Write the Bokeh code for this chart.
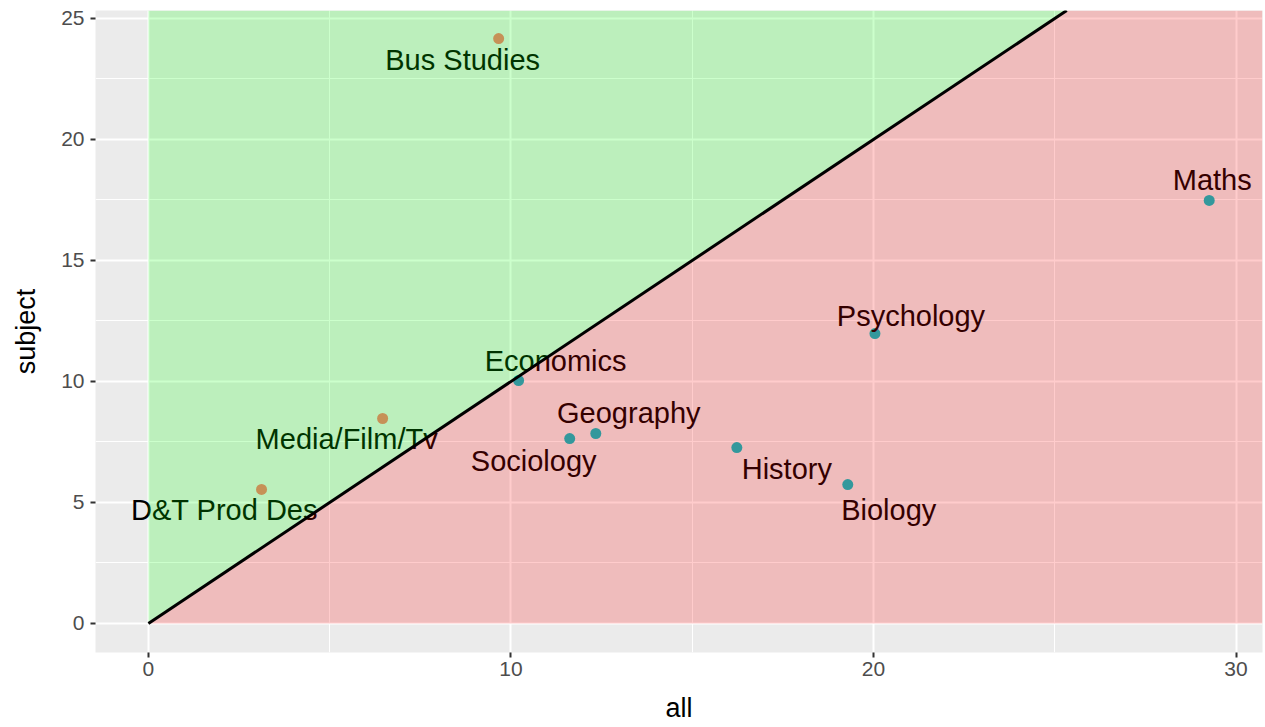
from bokeh.plotting import figure
from bokeh.models import ColumnDataSource, Range1d, FixedTicker
from bokeh.core.properties import value
from bokeh.embed import file_html
from bokeh.resources import INLINE

# ---- data ----
subjects = ["Bus Studies", "Media/Film/Tv", "D&T Prod Des", "Economics", "Sociology",
            "Geography", "History", "Biology", "Psychology", "Maths"]
all_vals = [9.66, 6.46, 3.12, 10.21, 11.62, 12.34, 16.23, 19.29, 20.04, 29.26]
subject_vals = [24.17, 8.47, 5.54, 10.04, 7.64, 7.85, 7.27, 5.74, 11.98, 17.48]
x_ticks = [0, 10, 20, 30]
y_ticks = [0, 5, 10, 15, 20, 25]

# label placement (screen-pixel offsets from each point; positive dy = downwards)
label_dx = [-36, -36, -37, 37, -36, 33, 50, 41, 36, 3]
label_dy = [21, 21, 21, -20, 22, -20, 21, 25, -18, -20]

# ---- styling / layout ----
X0, X1 = -1.46, 30.73
Y0, Y1 = -1.2, 25.33
FONT = "Liberation Sans"
above_col = "#F8766D"
below_col = "#00BFC4"

colors = [above_col if s > a else below_col for a, s in zip(all_vals, subject_vals)]

src = ColumnDataSource(dict(x=all_vals, y=subject_vals, label=subjects,
                            dx=label_dx, dy=label_dy, color=colors))

p = figure(width=1265, height=727, output_backend="svg", toolbar_location=None,
           x_range=Range1d(X0, X1), y_range=Range1d(Y0, Y1),
           min_border_left=95, min_border_right=3, min_border_top=10, min_border_bottom=75)

p.background_fill_color = "#EBEBEB"
p.border_fill_color = "white"
p.outline_line_color = None

p.xaxis.ticker = FixedTicker(ticks=x_ticks, minor_ticks=[5, 15, 25])
p.yaxis.ticker = FixedTicker(ticks=y_ticks, minor_ticks=[2.5, 7.5, 12.5, 17.5, 22.5])

for g in (p.xgrid, p.ygrid):
    g.grid_line_color = "white"
    g.grid_line_width = 2
    g.minor_grid_line_color = "white"
    g.minor_grid_line_width = 1

for ax in (p.xaxis, p.yaxis):
    ax.axis_line_color = None
    ax.major_tick_line_color = "#333333"
    ax.major_tick_line_width = 2
    ax.major_tick_out = 5
    ax.major_tick_in = 0
    ax.minor_tick_line_color = None
    ax.major_label_text_font = FONT
    ax.major_label_text_font_size = "21px"
    ax.major_label_text_color = "#4D4D4D"
    ax.axis_label_text_font = FONT
    ax.axis_label_text_font_size = "27px"
    ax.axis_label_text_font_style = "normal"
    ax.axis_label_text_color = "black"

p.xaxis.axis_label = "all"
p.yaxis.axis_label = "subject"
p.xaxis.major_label_standoff = 4
p.yaxis.major_label_standoff = 6
p.xaxis.axis_label_standoff = 14
p.yaxis.axis_label_standoff = 17

# points and labels (drawn first, tinted by the translucent regions on top)
p.scatter("x", "y", source=src, size=11, color="color", line_color=None)
p.text("x", "y", text="label", source=src, x_offset="dx", y_offset="dy",
       text_align="center", text_baseline="middle", text_color="black",
       text_font=value(FONT), text_font_size="29px")

# regions above / below the identity line
p.patch([0, 0, Y1], [0, Y1, Y1], fill_color="#00FF00", fill_alpha=0.2, line_color=None)
p.patch([0, X1, X1, Y1], [0, 0, Y1, Y1], fill_color="#FF0000", fill_alpha=0.2, line_color=None)
p.line([0, Y1], [0, Y1], line_color="black", line_width=3)

open("out.html", "w").write(file_html(p, INLINE))
